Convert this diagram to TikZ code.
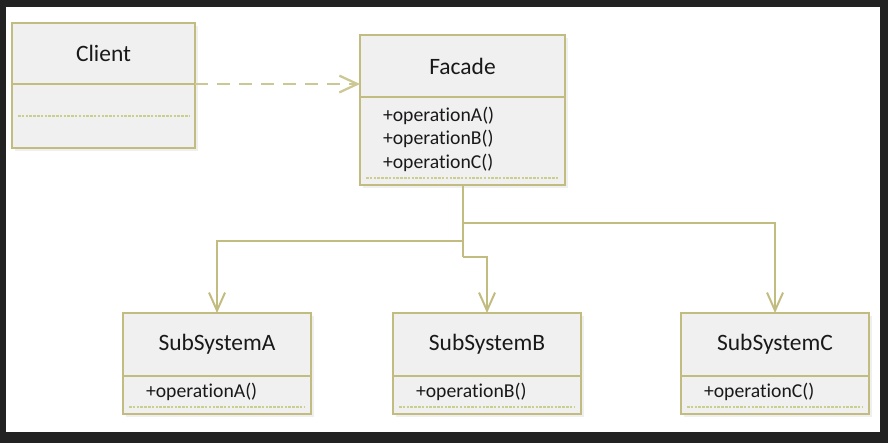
\documentclass[tikz,border=0pt]{standalone}
\usepackage{fontspec}
\setmainfont[Ligatures=NoCommon]{Carlito}
\usetikzlibrary{arrows.meta,shadows}
\definecolor{umlline}{RGB}{194,188,128}
\definecolor{umldash}{RGB}{204,200,148}
\definecolor{umldots}{RGB}{202,208,140}
\definecolor{umlfill}{RGB}{240,240,240}
\definecolor{frame}{RGB}{34,34,34}
\tikzset{
  classhead/.style={draw=umlline, line width=2pt, fill=umlfill, inner sep=0pt,
    outer sep=0pt, text=black!90, font=\fontsize{16.7}{20}\selectfont,
    drop shadow={opacity=0.12, shadow xshift=2pt, shadow yshift=-2pt}},
  classbody/.style={draw=umlline, line width=2pt, fill=umlfill, inner ysep=0pt,
    outer sep=0pt, inner xsep=0.575cm, align=left, text=black!90,
    font=\fontsize{14}{17}\selectfont,
    drop shadow={opacity=0.12, shadow xshift=2pt, shadow yshift=-2pt}},
  sepline/.style={umldots, line width=1.4pt, dash pattern=on 1.8pt off 0.9pt},
  link/.style={umlline, line width=1.4pt, -{Straight Barb[length=0.45cm, width=0.4cm]}},
  uses/.style={umldash, line width=1.6pt, dash pattern=on 0.33cm off 0.22cm,
    -{Straight Barb[length=0.45cm, width=0.42cm]}}
}
\begin{document}
\begin{tikzpicture}[x=0.025cm, y=-0.025cm]
    % 1. Khung nền
    \fill[frame] (0,0) rectangle (888,443);
    \fill[white] (6,7) rectangle (880,432);

    % 2. Client
    \node[classhead, anchor=north west, minimum width=4.575cm, minimum height=1.525cm]
        (client) at (12,23) {Client};
    \node[classbody, anchor=north, minimum width=4.575cm, minimum height=1.6cm]
        (clientops) at (client.south) {};
    \draw[sepline] ([xshift=0.15cm]clientops.west) -- ([xshift=-0.15cm]clientops.east);

    % 3. Facade
    \node[classhead, anchor=north west, minimum width=5.125cm, minimum height=1.55cm]
        (facade) at (360,35) {Facade};
    \node[classbody, anchor=north, text width=3.975cm, text height=0.35cm,
        text depth=1.35cm, minimum height=2.2cm]
        (facadeops) at (facade.south) {+operationA()\\+operationB()\\+operationC()};
    \draw[sepline] ([shift={(0.15cm,0.18cm)}]facadeops.south west)
        -- ([shift={(-0.15cm,0.18cm)}]facadeops.south east);

    % 4. Các hệ con
    \foreach \name/\xpos in {A/123, B/393, C/681} {
        \node[classhead, anchor=north west, minimum width=4.7cm, minimum height=1.575cm]
            (sub\name) at (\xpos,313) {SubSystem\name};
        \node[classbody, anchor=north, text width=3.55cm, text depth=0.22cm, minimum height=0.95cm]
            (sub\name ops) at (sub\name.south) {+operation\name()};
        \draw[sepline] ([shift={(0.15cm,0.18cm)}]sub\name ops.south west)
            -- ([shift={(-0.15cm,0.18cm)}]sub\name ops.south east);
    }

    % 5. Các đường nối
    \draw[uses] (client.south east) -- (client.south east -| facade.west);
    \coordinate (forkC) at (facadeops.south |- 0,223);
    \coordinate (forkA) at (facadeops.south |- 0,241);
    \coordinate (forkB) at (facadeops.south |- 0,257);
    \draw[umlline, line width=1.4pt] (facadeops.south) -- (forkB);
    \draw[link] (forkA) -| (subA.north);
    \draw[link] (forkB) -| (subB.north);
    \draw[link] (forkC) -| (subC.north);
\end{tikzpicture}
\end{document}
